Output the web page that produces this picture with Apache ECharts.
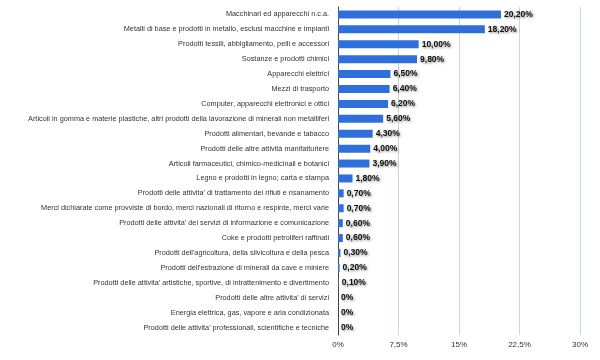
<!DOCTYPE html>
<html><head><meta charset="utf-8">
<script src="https://cdn.jsdelivr.net/npm/echarts@6/dist/echarts.min.js"></script>
<style>html,body{margin:0;padding:0;background:#fff}#c{width:600px;height:360px}</style>
</head><body><div id="c"></div>
<script>
const categories = [
"Macchinari ed apparecchi n.c.a.",
"Metalli di base e prodotti in metallo, esclusi macchine e impianti",
"Prodotti tessili, abbigliamento, pelli e accessori",
"Sostanze e prodotti chimici",
"Apparecchi elettrici",
"Mezzi di trasporto",
"Computer, apparecchi elettronici e ottici",
"Articoli in gomma e materie plastiche, altri prodotti della lavorazione di minerali non metalliferi",
"Prodotti alimentari, bevande e tabacco",
"Prodotti delle altre attività manifatturiere",
"Articoli farmaceutici, chimico-medicinali e botanici",
"Legno e prodotti in legno; carta e stampa",
"Prodotti delle attivita' di trattamento dei rifiuti e risanamento",
"Merci dichiarate come provviste di bordo, merci nazionali di ritorno e respinte, merci varie",
"Prodotti delle attivita' dei servizi di informazione e comunicazione",
"Coke e prodotti petroliferi raffinati",
"Prodotti dell'agricoltura, della silvicoltura e della pesca",
"Prodotti dell'estrazione di minerali da cave e miniere",
"Prodotti delle attivita' artistiche, sportive, di intrattenimento e divertimento",
"Prodotti delle altre attivita' di servizi",
"Energia elettrica, gas, vapore e aria condizionata",
"Prodotti delle attivita' professionali, scientifiche e tecniche"
];
const values = [20.2, 18.2, 10.0, 9.8, 6.5, 6.4, 6.2, 5.6, 4.3, 4.0, 3.9, 1.8, 0.7, 0.7, 0.6, 0.6, 0.3, 0.2, 0.1, 0, 0, 0];
const tickLabels = {0: "0%", 7.5: "7,5%", 15: "15%", 22.5: "22,5%", 30: "30%"};

const chart = echarts.init(document.getElementById('c'));
chart.setOption({
  animation: false,
  grid: {left: 338, right: 20, top: 7, bottom: 25, containLabel: false},
  xAxis: {
    type: 'value', min: 0, max: 30, interval: 7.5,
    axisLine: {show: false}, axisTick: {show: false},
    splitLine: {lineStyle: {color: '#c9d6da', width: 1}},
    axisLabel: {formatter: v => tickLabels[v], color: '#333', fontSize: 8, fontFamily: 'Liberation Sans, Arial', margin: 6}
  },
  yAxis: {
    type: 'category', data: categories, inverse: true,
    axisLine: {show: true, lineStyle: {color: '#444', width: 1}},
    axisTick: {show: false},
    axisLabel: {color: '#333', fontSize: 7.3, fontFamily: 'Liberation Sans, Arial', margin: 9, interval: 0}
  },
  series: [{
    type: 'bar', data: values, barWidth: 8,
    itemStyle: {color: '#2f6fdb'},
    label: {
      show: true, position: 'right', distance: 3,
      formatter: p => p.value === 0 ? '0%' : p.value.toFixed(2).replace('.', ',') + '%',
      color: '#111', fontWeight: 'bold', fontSize: 8.5, fontFamily: 'Liberation Sans, Arial',
      textShadowColor: 'rgba(0,0,0,0.5)', textShadowBlur: 2.5, textShadowOffsetX: 1, textShadowOffsetY: 1
    }
  }]
});
</script></body></html>
